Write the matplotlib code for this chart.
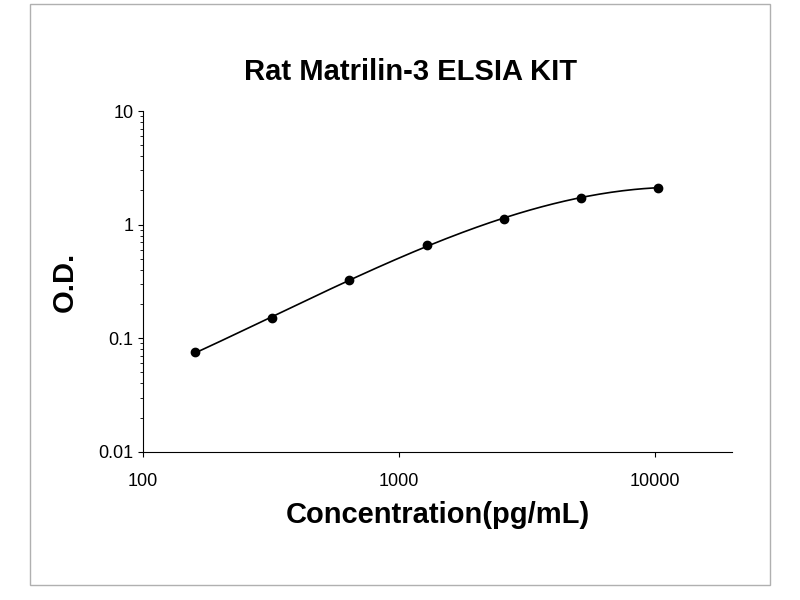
import numpy as np
import matplotlib.pyplot as plt
from matplotlib.patches import Rectangle

plt.rcParams["font.family"] = ["Liberation Sans", "DejaVu Sans"]

conc = [160, 320, 640, 1280, 2560, 5120, 10240]
od = [0.075, 0.152, 0.325, 0.66, 1.12, 1.72, 2.12]

fig = plt.figure(figsize=(8, 6), dpi=100)
fig.patches.append(Rectangle((0.038, 0.025), 0.925, 0.968, transform=fig.transFigure,
                             fill=False, edgecolor="#b0b0b0", linewidth=1))
ax = fig.add_axes([0.179, 0.247, 0.736, 0.568])

# smooth fit curve in log-log space
lx, ly = np.log10(conc), np.log10(od)
coef = np.polyfit(lx, ly, 3)
xs = np.linspace(lx[0], lx[-1], 200)
ax.plot(10 ** xs, 10 ** np.polyval(coef, xs), color="black", linewidth=1.2)
ax.plot(conc, od, "o", color="black", markersize=6)

ax.set_xscale("log")
ax.set_yscale("log")
ax.set_xlim(100, 20000)
ax.set_ylim(0.01, 10)
ax.set_xticks([100, 1000, 10000])
ax.set_xticklabels(["100", "1000", "10000"])
ax.set_yticks([0.01, 0.1, 1, 10])
ax.set_yticklabels(["0.01", "0.1", "1", "10"])
ax.xaxis.set_minor_locator(plt.NullLocator())
ax.tick_params(axis="both", labelsize=13, direction="out")
ax.tick_params(axis="x", pad=12)
for s in ["top", "right"]:
    ax.spines[s].set_visible(False)

fig.text(0.513, 0.88, "Rat Matrilin-3 ELSIA KIT", fontsize=21, fontweight="bold",
         ha="center", va="center")
ax.set_xlabel("Concentration(pg/mL)", fontsize=21, fontweight="bold", labelpad=8)
ax.set_ylabel("O.D.", fontsize=21, fontweight="bold", labelpad=14)

fig.savefig("out.png")
